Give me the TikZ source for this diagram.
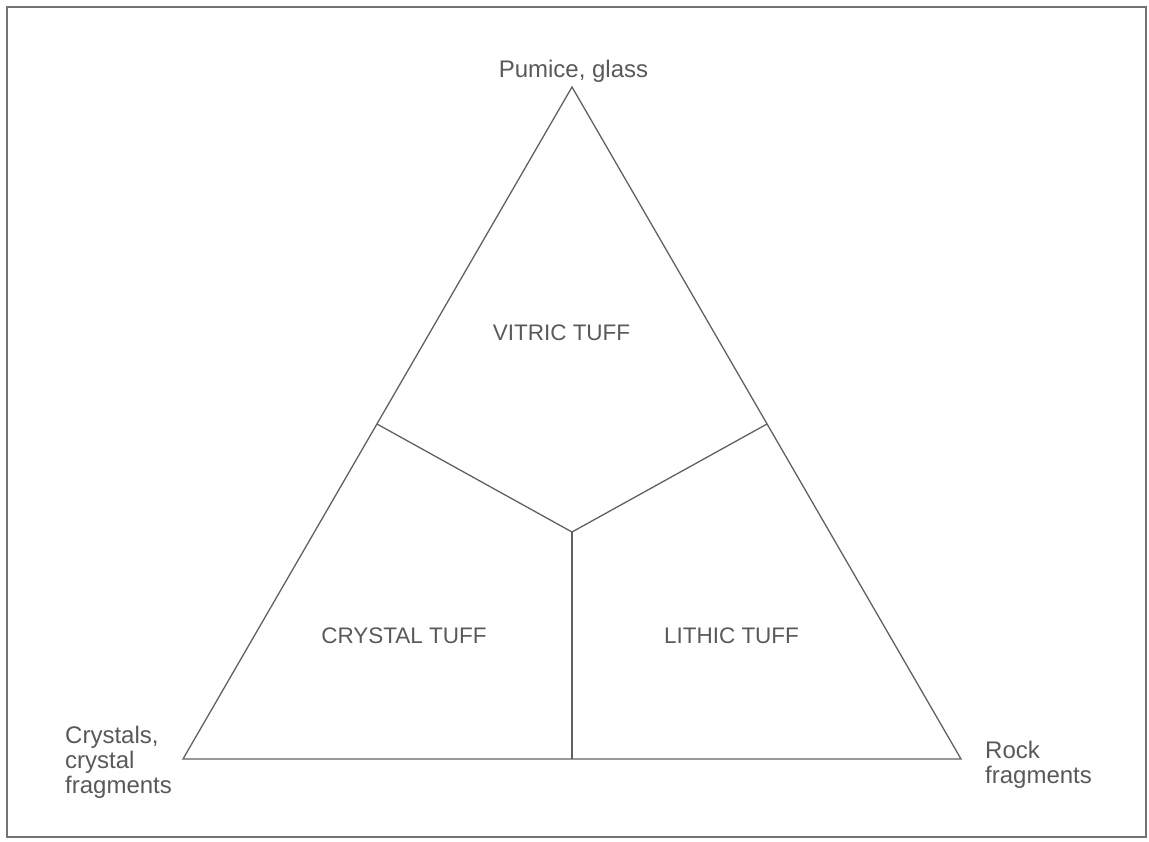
\documentclass[tikz,border=0pt]{standalone}
\usepackage{fontspec}
\setmainfont{Liberation Sans}
\begin{document}
\begin{tikzpicture}[x=1pt,y=-1pt,
  frame/.style={draw=black!55,line width=2pt},
  edge/.style={draw=black!62,line width=1.3pt,line join=miter},
  corner/.style={text=black!65,font=\fontsize{24}{25}\selectfont,inner sep=0pt,align=left},
  region/.style={text=black!65,font=\fontsize{22.5}{25}\selectfont,inner sep=0pt,anchor=base}]
\useasboundingbox (0,0) rectangle (1149,841);
\draw[frame] (7,7) rectangle (1146,837);
\coordinate (apex) at (572,87);
\coordinate (bl) at (183,759);
\coordinate (br) at (961,759);
\coordinate (ml) at (377,424);
\coordinate (mr) at (767,424);
\coordinate (c) at (572,532);
\coordinate (cb) at (572,759);
\draw[edge] (apex) -- (bl) -- (br) -- cycle;
\draw[edge] (ml) -- (c) -- (mr);
\draw[edge] (c) -- (cb);
\node[region,font=\fontsize{24}{25}\selectfont] (pumice) at (573.5,77) {Pumice, glass};
\node[region] (vitric) at (561.5,340) {VITRIC TUFF};
\node[region] (crystal) at (404,643) {CRYSTAL TUFF};
\node[region] (lithic) at (731.5,643) {LITHIC TUFF};
\node[corner,anchor=base west] (crystals) at (65,793) {Crystals,\\crystal\\fragments};
\node[corner,anchor=base west] (rock) at (985,783) {Rock\\fragments};
\end{tikzpicture}
\end{document}
